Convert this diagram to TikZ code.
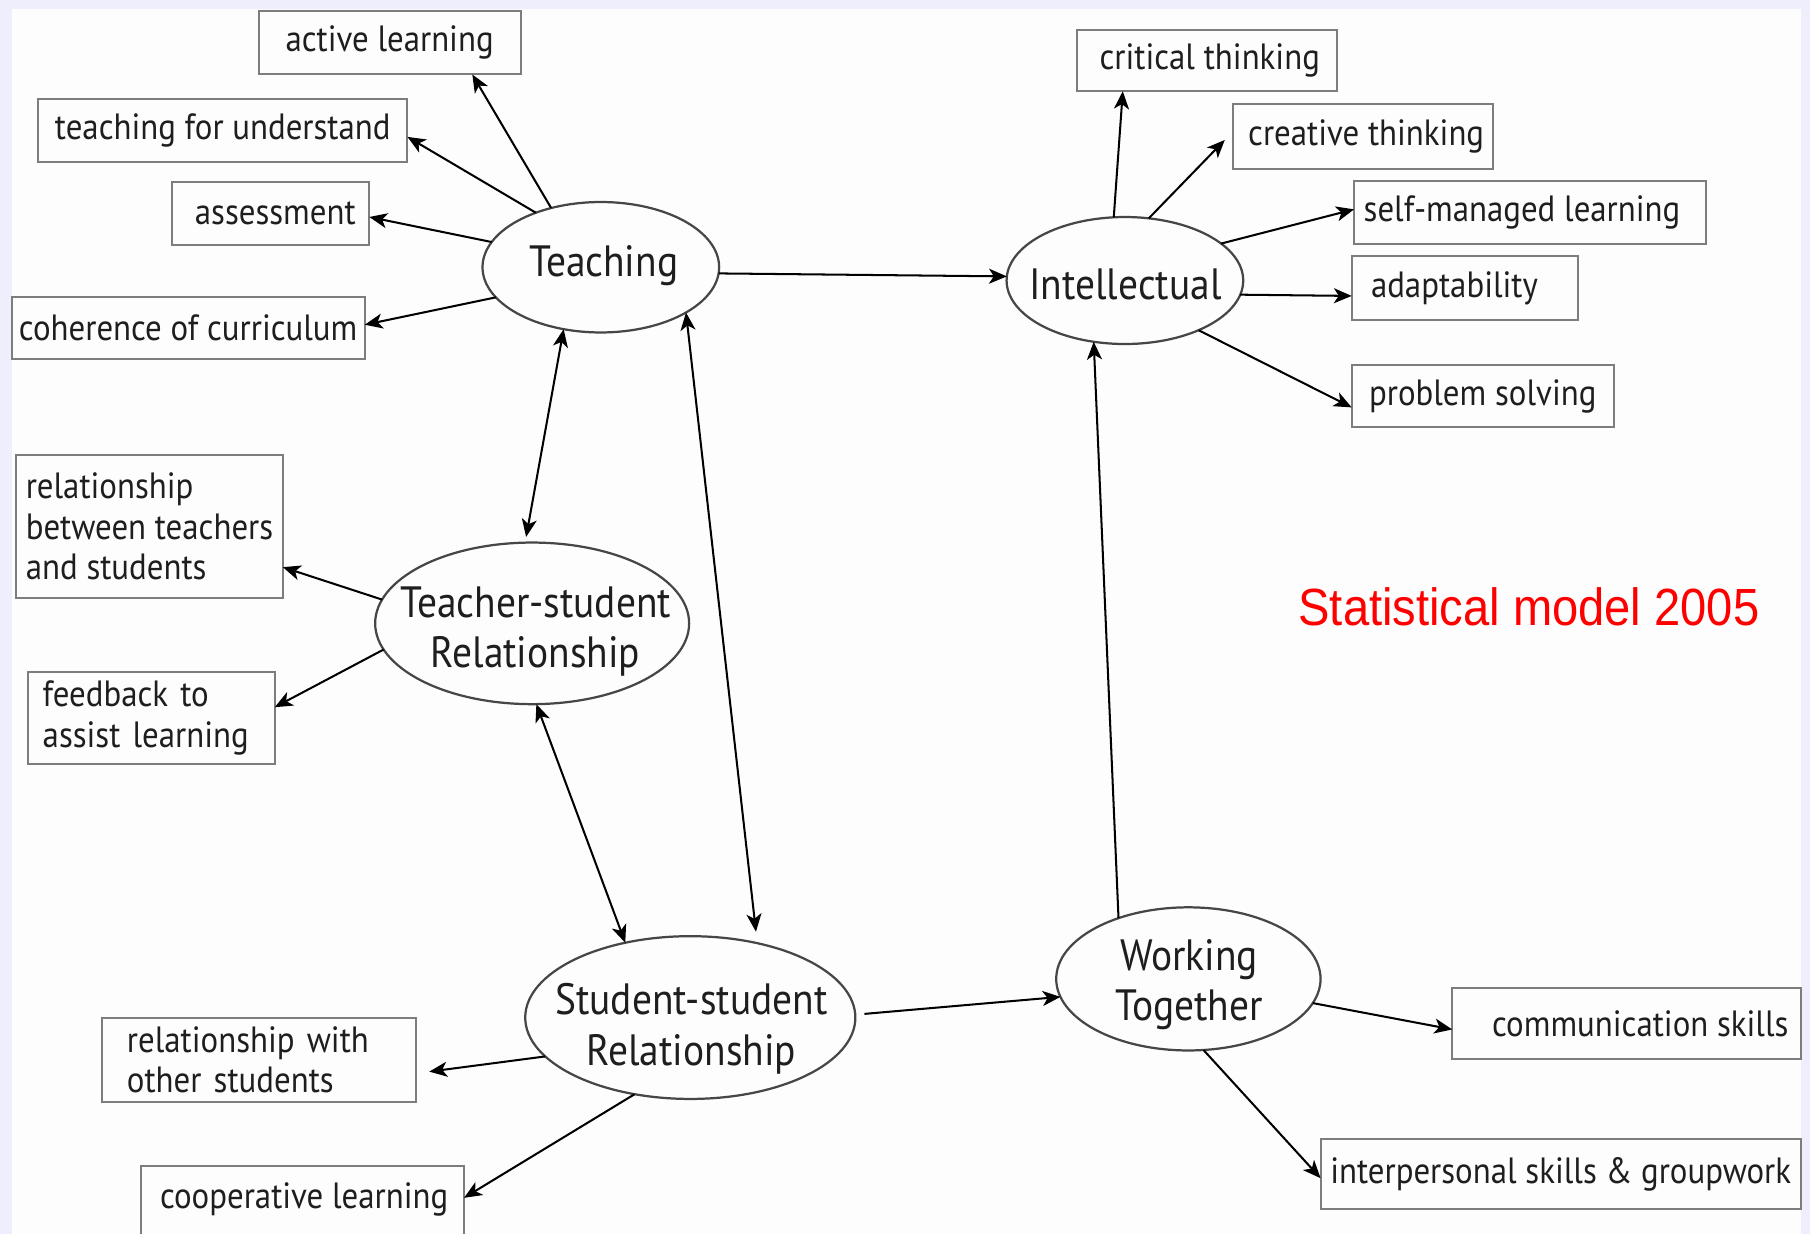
\documentclass[tikz,border=0pt]{standalone}
\usepackage{fontspec}
\setmainfont{PT Sans}[FakeStretch=0.9]
\newfontfamily\redfont{Liberation Sans}[FakeStretch=0.9]
\usetikzlibrary{arrows.meta,shapes.geometric}

\definecolor{frameblue}{RGB}{238,238,252}
\definecolor{paper}{RGB}{253,253,253}
\definecolor{boxgray}{RGB}{125,125,125}
\definecolor{ellgray}{RGB}{70,70,70}
\definecolor{inkdark}{RGB}{30,30,30}
\definecolor{titlered}{RGB}{255,0,0}

\newcommand{\smallboxfont}{\fontsize{9}{10}\selectfont}
\newcommand{\bigellfont}{\fontsize{10.8}{12.5}\selectfont}

\begin{document}
\begin{tikzpicture}[x=0.1mm, y=-0.1mm,
  box/.style={draw=boxgray, line width=0.5pt, inner sep=0pt, outer sep=0pt,
              font=\smallboxfont, text=inkdark},
  leftbox/.style={box, align=left},
  ell/.style={ellipse, draw=ellgray, line width=0.55pt, inner sep=0pt, outer sep=0pt},
  elltext/.style={font=\bigellfont, align=center, inner sep=0pt, text=inkdark},
  arr/.style={-{Stealth[length=4.4pt, width=3.7pt, inset=1.2pt]}, line width=0.5pt, draw=black},
  biarr/.style={{Stealth[length=4.4pt, width=3.7pt, inset=1.2pt]}-{Stealth[length=4.4pt, width=3.7pt, inset=1.2pt]},
                line width=0.5pt, draw=black}
]
\useasboundingbox (0,0) rectangle (1568,1069);
\clip (0,0) rectangle (1568,1069);
\fill[frameblue] (0,0) rectangle (1568,1069);
\fill[paper] (10,8) rectangle (1560,1069);

% ---- central ellipses ----
\node[ell, minimum width=20.5mm, minimum height=11.3mm] (teach) at (520.5,231.5) {};
\node[elltext] (teach-t) at (523,230) {Teaching};
\node[ell, minimum width=20.5mm, minimum height=11.0mm] (intel) at (974.5,243) {};
\node[elltext] (intel-t) at (975,246) {Intellectual};
\node[ell, minimum width=27.2mm, minimum height=14.0mm] (ts) at (461,540) {};
\node[elltext] (ts-t) at (464,547) {Teacher-student\\Relationship};
\node[ell, minimum width=28.6mm, minimum height=14.1mm] (ss) at (598,881.5) {};
\node[elltext] (ss-t) at (599,891) {Student-student\\Relationship};
\node[ell, minimum width=22.9mm, minimum height=12.4mm] (wt) at (1029.5,848) {};
\node[elltext] (wt-t) at (1030,853) {Working\\Together};

% ---- boxes around Teaching ----
\node[box, minimum width=22.7mm, minimum height=5.5mm] (active) at (337.5,37) {active learning};
\node[box, minimum width=32.0mm, minimum height=5.5mm] (tfu) at (193,113) {teaching for understand};
\node[box, minimum width=17.1mm, minimum height=5.4mm] (assess) at (234.5,185) {\hspace*{0.8mm}assessment};
\node[box, minimum width=30.6mm, minimum height=5.4mm] (coher) at (163,284) {coherence of curriculum};

% ---- boxes around Intellectual ----
\node[box, minimum width=22.5mm, minimum height=5.3mm] (crit) at (1045.5,52.5) {\hspace*{0.5mm}critical thinking};
\node[box, minimum width=22.5mm, minimum height=5.6mm] (creat) at (1180.5,118) {\hspace*{0.6mm}creative thinking};
\node[box, minimum width=30.5mm, minimum height=5.4mm] (self) at (1325.5,184) {self-managed learning\hspace*{1.4mm}};
\node[box, minimum width=19.6mm, minimum height=5.5mm] (adapt) at (1269,249.5) {adaptability\hspace*{1.8mm}};
\node[box, minimum width=22.7mm, minimum height=5.4mm] (prob) at (1284.5,343) {problem solving};

% ---- boxes around the relationships ----
\node[leftbox, minimum width=23.1mm, minimum height=12.4mm] (relt) at (129.5,456)
  {relationship\\between teachers\\and students};
\node[leftbox, minimum width=21.4mm, minimum height=8.0mm, text width=18.8mm] (feed) at (131,622)
  {feedback to\\assist learning};
\node[leftbox, minimum width=27.2mm, minimum height=7.3mm, text width=22.8mm] (relo) at (224,918)
  {relationship with\\other students};
\node[box, minimum width=28.0mm, minimum height=7.0mm, anchor=north] (coop) at (262,1010) {};
\node[font=\smallboxfont, text=inkdark, inner sep=0pt] (coop-t) at (263.5,1039) {cooperative learning};

% ---- boxes around Working Together ----
\node[box, minimum width=30.2mm, minimum height=6.1mm] (comm) at (1409,886.5) {\hspace*{2.4mm}communication skills};
\node[box, minimum width=41.6mm, minimum height=6.1mm] (inter) at (1352,1017) {interpersonal skills \& groupwork};

% ---- title ----
\node[font=\redfont\fontsize{12.9}{14}\selectfont, text=titlered, inner sep=0pt] (title) at (1324.5,526)
  {Statistical model 2005};

% ---- connectors from Teaching ----
\draw[arr] (teach.130) -- (active.-21);
\draw[arr] (teach.140) -- (tfu.-2);
\draw[arr] (teach.167) -- (assess.-2);
\draw[arr] (teach.196) -- (coher.1);
\draw[arr] (teach.-3) -- (intel.178);
\draw[biarr, shorten >=0.5mm] (teach.239) -- (ts.95);
\draw[biarr, shorten >=1mm] (teach.-28) -- (ss.48);

% ---- connectors from the relationships ----
\draw[biarr] (ts.-87) -- (ss.131);
\draw[arr] (ts.171) -- (relt.-17);
\draw[arr] (ts.190) -- (feed.5);
\draw[arr, shorten >=1.2mm] (ss.195) -- (relo.-5);
\draw[arr] (ss.234) -- (coop.3);
\draw[arr, shorten <=0.8mm] (ss.1) -- (wt.188);

% ---- connectors from Working Together ----
\draw[arr] (wt.139) -- (intel.243);
\draw[arr] (wt.-11) -- (comm.182);
\draw[arr] (wt.-78) -- (inter.181);

% ---- connectors from Intellectual ----
\draw[arr] (intel.100) -- (crit.200);
\draw[arr, shorten >=1mm] (intel.69) -- (creat.178);
\draw[arr] (intel.21) -- (self.179);
\draw[arr] (intel.-7) -- (adapt.184);
\draw[arr] (intel.-34) -- (prob.185);
\end{tikzpicture}
\end{document}
